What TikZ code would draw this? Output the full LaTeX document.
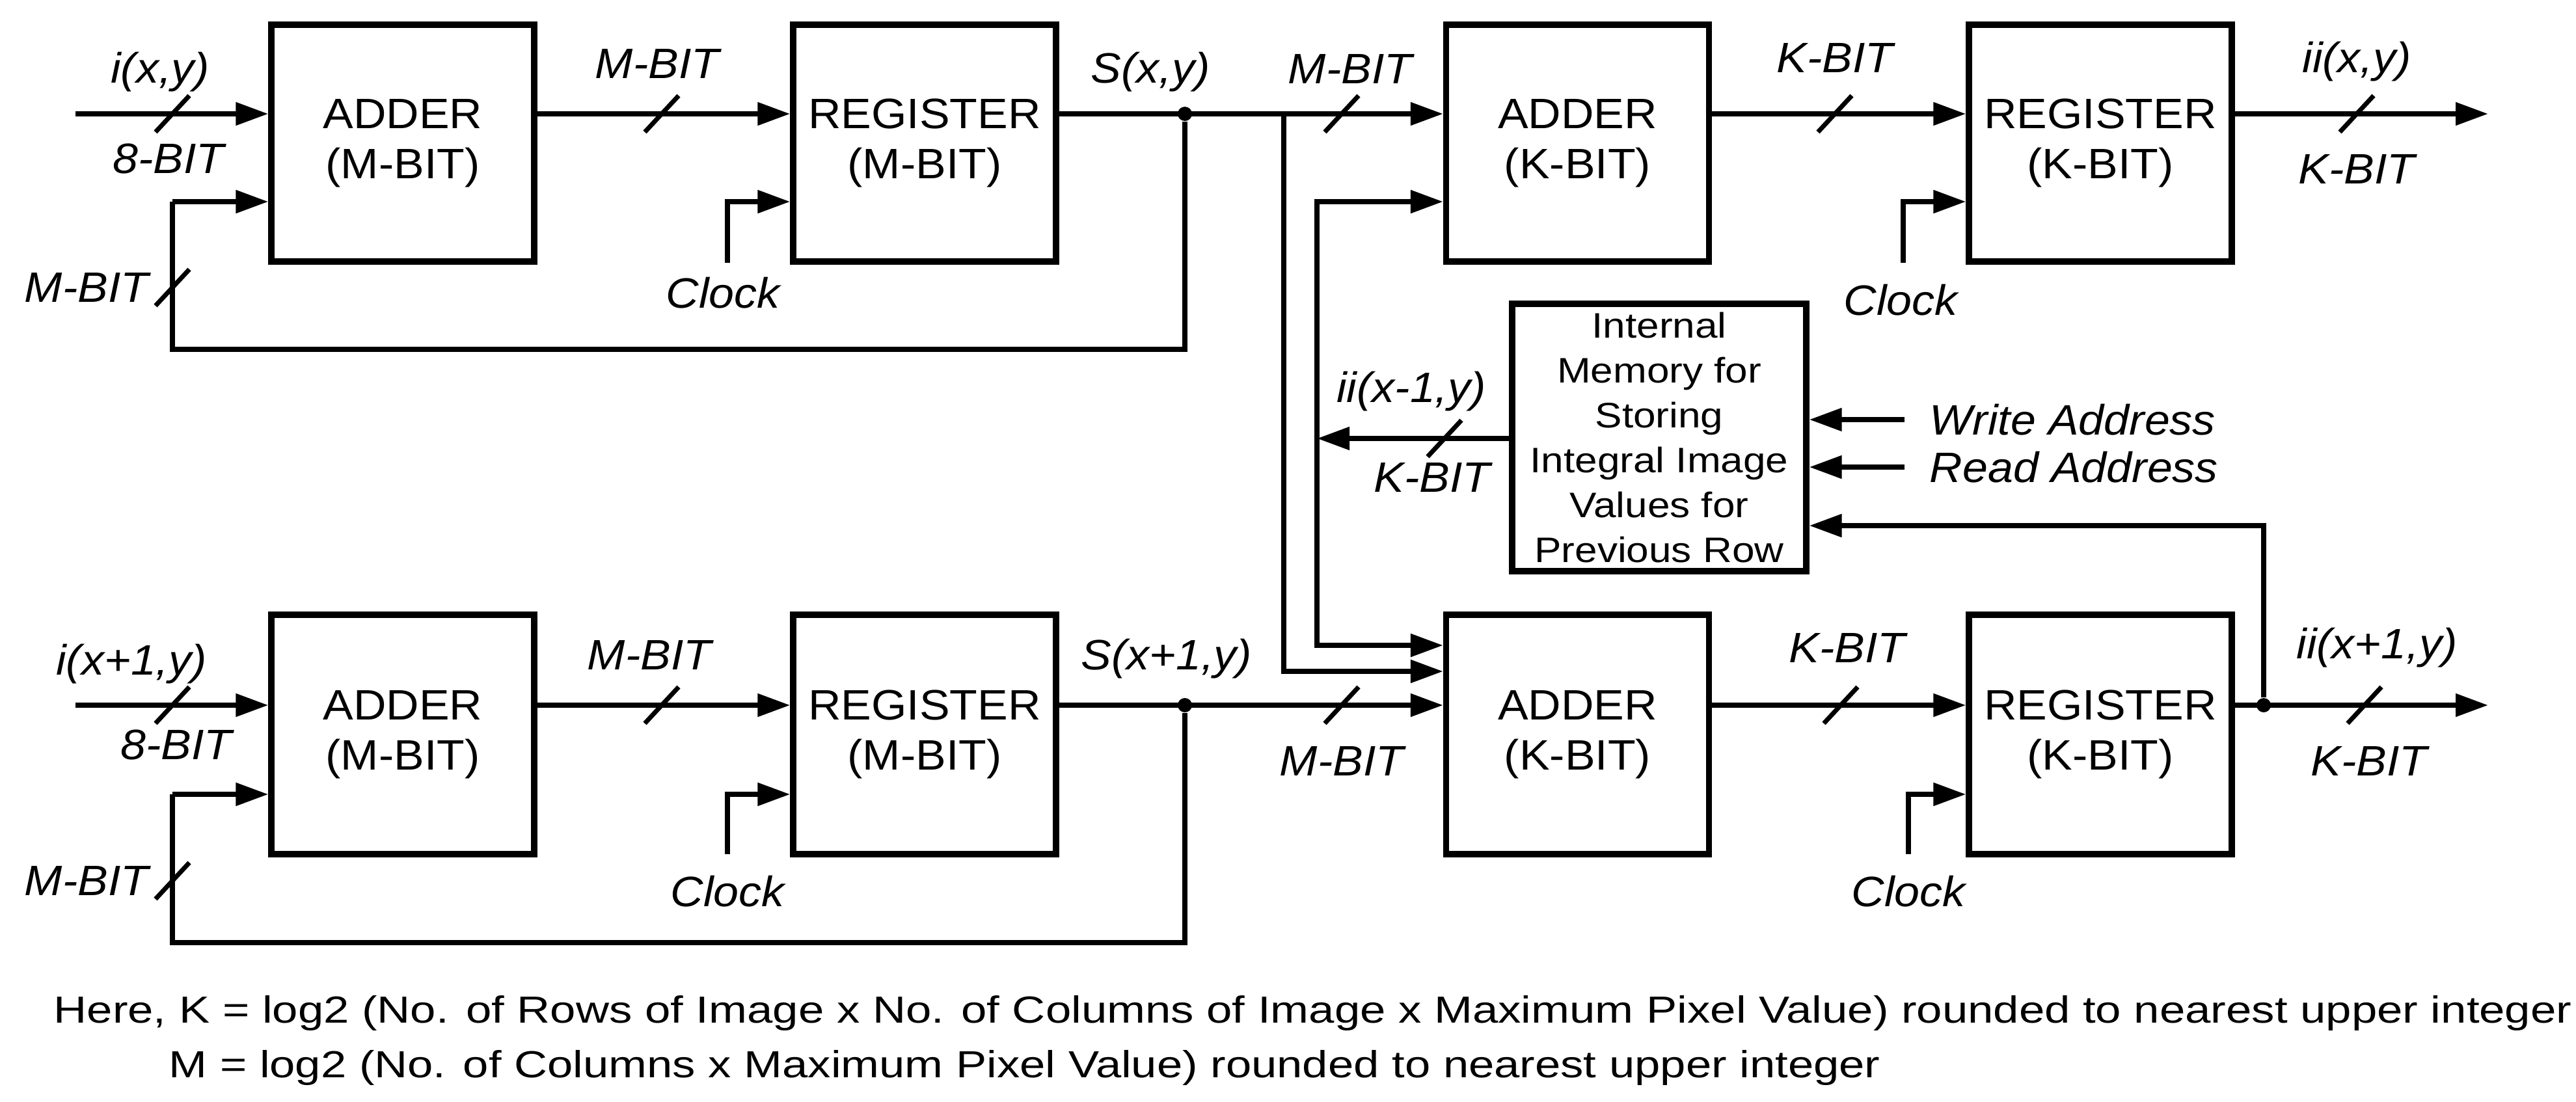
\documentclass[tikz,border=0pt]{standalone}
\usepackage{fontspec}
\usepackage{graphicx}
\setmainfont{Liberation Sans}
\usetikzlibrary{arrows.meta}
\newcommand\sx[1]{\scalebox{1.07}[1]{#1}}
\newcommand\mx[1]{\scalebox{1.14}[1]{#1}}
\begin{document}
\begin{tikzpicture}[
  w/.style={line width=2.3pt,-{Triangle[length=0.5cm,width=0.34cm]}},
  wn/.style={line width=2.3pt},
  blk/.style={draw,line width=2.6pt,minimum width=4.04cm,minimum height=3.64cm,align=center,font=\fontsize{18.6}{21.8}\selectfont,inner sep=0pt},
  lab/.style={font=\fontsize{18.6}{20}\selectfont\itshape,inner sep=0pt},
  dot/.style={circle,fill,inner sep=0pt,minimum size=0.22cm},
  sl/.style={line width=2pt}
]
\useasboundingbox (0,0) rectangle (39.59,-16.94);
% blocks
\node[blk] (a1) at (6.19,-2.20) {\sx{ADDER}\\\sx{(M-BIT)}};
\node[blk] (r1) at (14.21,-2.20) {\sx{REGISTER}\\\sx{(M-BIT)}};
\node[blk,minimum height=3.68cm] (a2) at (6.19,-11.29) {\sx{ADDER}\\\sx{(M-BIT)}};
\node[blk,minimum height=3.68cm] (r2) at (14.21,-11.29) {\sx{REGISTER}\\\sx{(M-BIT)}};
\node[blk] (ak1) at (24.245,-2.20) {\sx{ADDER}\\\sx{(K-BIT)}};
\node[blk] (rk1) at (32.28,-2.20) {\sx{REGISTER}\\\sx{(K-BIT)}};
\node[blk,minimum height=3.68cm] (ak2) at (24.245,-11.29) {\sx{ADDER}\\\sx{(K-BIT)}};
\node[blk,minimum height=3.68cm] (rk2) at (32.28,-11.29) {\sx{REGISTER}\\\sx{(K-BIT)}};
\node[blk,minimum width=4.52cm,minimum height=4.11cm,font=\fontsize{15.5}{19.6}\selectfont] (mem) at (25.50,-6.725)
  {\mx{Internal}\\\mx{Memory for}\\\mx{Storing}\\\mx{Integral Image}\\\mx{Values for}\\\mx{Previous Row}};

% coordinates
\coordinate (in1) at (1.16,-1.75);
\coordinate (lo1) at (2.65,-3.10);
\coordinate (fb1) at (2.65,-5.37);
\node[dot] (j1) at (18.21,-1.75) {};
\coordinate (t1) at (19.73,-1.75);
\coordinate (t1b) at (19.73,-10.32);
\coordinate (c1) at (11.18,-4.04);
\coordinate (c1b) at (11.18,-3.10);
\coordinate (o1) at (38.24,-1.75);
\coordinate (ck1) at (29.25,-4.04);
\coordinate (ck1b) at (29.25,-3.10);
\coordinate (v1) at (20.24,-3.10);
\coordinate (v2) at (20.24,-9.92);
\coordinate (mo) at (20.24,-6.74);
\coordinate (wa) at (29.27,-6.45);
\coordinate (ra) at (29.27,-7.18);
\node[dot] (j4) at (34.79,-10.84) {};
\coordinate (fbm) at (34.79,-8.08);

\coordinate (in2) at (1.16,-10.84);
\coordinate (lo2) at (2.65,-12.21);
\coordinate (fb2) at (2.65,-14.49);
\node[dot] (j2) at (18.21,-10.84) {};
\coordinate (c2) at (11.18,-13.13);
\coordinate (c2b) at (11.18,-12.21);
\coordinate (o2) at (38.24,-10.84);
\coordinate (ck2) at (29.33,-13.13);
\coordinate (ck2b) at (29.33,-12.21);

% top row
\draw[w] (in1) -- (in1 -| a1.west);
\draw[w] (a1.east |- in1) -- (r1.west |- in1);
\draw[w] (r1.east |- in1) -- (ak1.west |- in1);
\draw[wn] (j1) -- (j1 |- fb1) -- (fb1) -- (lo1);
\draw[w] (lo1) -- (lo1 -| a1.west);
\draw[w] (c1) -- (c1b) -- (c1b -| r1.west);
\draw[w] (t1) -- (t1b) -- (t1b -| ak2.west);
\draw[w] (ak1.east |- in1) -- (rk1.west |- in1);
\draw[w] (rk1.east |- in1) -- (o1);
\draw[w] (ck1) -- (ck1b) -- (ck1b -| rk1.west);
\draw[line width=2.3pt,{Triangle[length=0.5cm,width=0.34cm]}-{Triangle[length=0.5cm,width=0.34cm]}] (v1 -| ak1.west) -- (v1) -- (v2) -- (v2 -| ak2.west);
\draw[w] (mo -| mem.west) -- (mo);
\draw[w] (wa) -- (wa -| mem.east);
\draw[w] (ra) -- (ra -| mem.east);
\draw[w] (j4) -- (fbm) -- (fbm -| mem.east);

% bottom row
\draw[w] (in2) -- (in2 -| a2.west);
\draw[w] (a2.east |- in2) -- (r2.west |- in2);
\draw[w] (r2.east |- in2) -- (ak2.west |- in2);
\draw[wn] (j2) -- (j2 |- fb2) -- (fb2) -- (lo2);
\draw[w] (lo2) -- (lo2 -| a2.west);
\draw[w] (c2) -- (c2b) -- (c2b -| r2.west);
\draw[w] (ak2.east |- in2) -- (rk2.west |- in2);
\draw[w] (rk2.east |- in2) -- (o2);
\draw[w] (ck2) -- (ck2b) -- (ck2b -| rk2.west);

% slashes
\foreach \x/\y in {2.65/-1.75,10.17/-1.75,20.62/-1.75,28.20/-1.75,36.22/-1.75,2.65/-4.42,22.20/-6.74,
                   2.65/-10.84,10.17/-10.84,20.62/-10.84,28.29/-10.84,36.34/-10.84,2.65/-13.54}
  \draw[sl] (\x-0.26,-0.28+\y) -- (\x+0.26,0.28+\y);

% labels
\node[lab] at (2.46,-1.11) {\sx{i(x,y)}};
\node[lab] at (2.59,-2.44) {\sx{8-BIT}};
\node[lab] at (10.10,-0.98) {\sx{M-BIT}};
\node[lab] at (17.68,-1.11) {\sx{S(x,y)}};
\node[lab] at (1.33,-4.42) {\sx{M-BIT}};
\node[lab] at (11.11,-4.50) {\sx{Clock}};
\node[lab] at (20.75,-1.06) {\sx{M-BIT}};
\node[lab] at (28.20,-0.89) {\sx{K-BIT}};
\node[lab] at (36.22,-0.95) {\sx{ii(x,y)}};
\node[lab] at (36.22,-2.60) {\sx{K-BIT}};
\node[lab] at (29.21,-4.61) {\sx{Clock}};
\node[lab] at (21.69,-6.02) {\sx{ii(x-1,y)}};
\node[lab] at (22.01,-7.34) {\sx{K-BIT}};
\node[lab,anchor=west] at (29.65,-6.45) {\sx{Write Address}};
\node[lab,anchor=west] at (29.65,-7.18) {\sx{Read Address}};
\node[lab] at (2.02,-10.21) {\sx{i(x+1,y)}};
\node[lab] at (2.71,-11.45) {\sx{8-BIT}};
\node[lab] at (9.98,-10.07) {\sx{M-BIT}};
\node[lab] at (17.93,-10.13) {\sx{S(x+1,y)}};
\node[lab] at (1.33,-13.54) {\sx{M-BIT}};
\node[lab] at (11.18,-13.70) {\sx{Clock}};
\node[lab] at (20.62,-11.70) {\sx{M-BIT}};
\node[lab] at (28.39,-9.96) {\sx{K-BIT}};
\node[lab] at (36.53,-9.96) {\sx{ii(x+1,y)}};
\node[lab] at (36.41,-11.70) {\sx{K-BIT}};
\node[lab] at (29.33,-13.70) {\sx{Clock}};

\node[anchor=west,inner sep=0pt,font=\fontsize{16.5}{18}\selectfont] (f1) at (0.82,-15.57)
  {\resizebox{38.7cm}{\height}{Here, K = log2 (No. of Rows of Image x No. of Columns of Image x Maximum Pixel Value) rounded to nearest upper integer}};
\node[anchor=west,inner sep=0pt,font=\fontsize{16.5}{18}\selectfont] (f2) at (2.59,-16.41)
  {\resizebox{26.3cm}{\height}{M = log2 (No. of Columns x Maximum Pixel Value) rounded to nearest upper integer}};
\end{tikzpicture}
\end{document}
